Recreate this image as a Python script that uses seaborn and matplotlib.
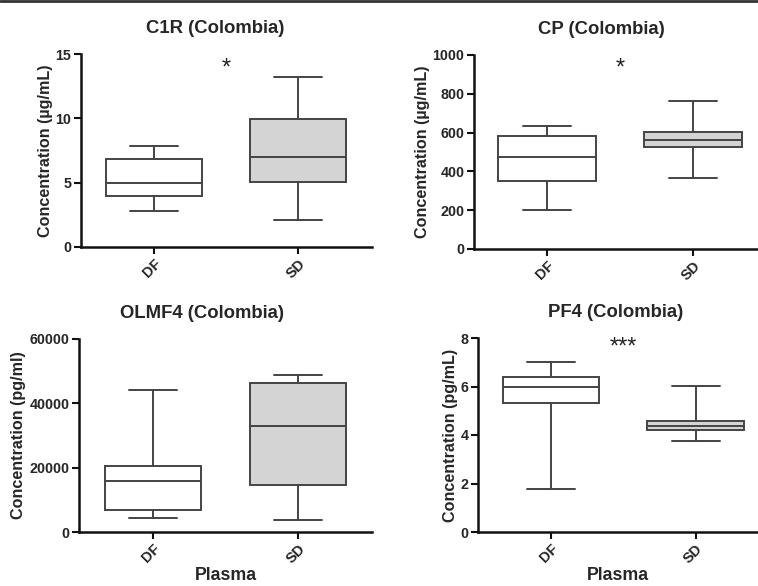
import numpy as np
import pandas as pd
import matplotlib
matplotlib.use("Agg")
import matplotlib.pyplot as plt
import seaborn as sns
from matplotlib.lines import Line2D

sns.set_theme(style="ticks")
plt.rcParams['font.family'] = ['Liberation Sans', 'DejaVu Sans']

groups = ["DF", "SD"]
titles = ["C1R (Colombia)", "CP (Colombia)", "OLMF4 (Colombia)", "PF4 (Colombia)"]
ylabels = ["Concentration (µg/mL)", "Concentration (µg/mL)",
           "Concentration (pg/ml)", "Concentration (pg/mL)"]
# five-number summaries per group: min, q1, median, q3, max
c1r_df = [2.8, 4.0, 5.0, 6.85, 7.85]
c1r_sd = [2.1, 5.05, 7.0, 9.95, 13.2]
cp_df = [201, 350, 472, 580, 632]
cp_sd = [366, 525, 562, 605, 763]
olmf4_df = [4250, 6700, 15700, 20500, 44300]
olmf4_sd = [3700, 14600, 33100, 46300, 48800]
pf4_df = [1.79, 5.31, 6.0, 6.39, 7.0]
pf4_sd = [3.75, 4.19, 4.36, 4.59, 6.03]
yticks = [[0, 5, 10, 15], [0, 200, 400, 600, 800, 1000],
          [0, 20000, 40000, 60000], [0, 2, 4, 6, 8]]
ytop = [15, 1000, 60000, 8]
stars = ["*", "*", "", "***"]
star_y = [13.9, 930, 0, 7.6]
xlabel = "Plasma"

series = [(c1r_df, c1r_sd), (cp_df, cp_sd), (olmf4_df, olmf4_sd), (pf4_df, pf4_sd)]

fig = plt.figure(figsize=(7.58, 5.86), dpi=100)
W, H = 758, 586
# pixel boxes: left, right, top, bottom ; xlim
boxes = [(81, 372, 54, 247, (-0.507, 1.514)),
         (474, 758, 55, 249, (-0.5, 1.445)),
         (79, 372, 339, 532, (-0.51, 1.51)),
         (478, 758, 338, 532, (-0.503, 1.43))]
title_x = [0.46, 0.447, 0.42, 0.49]

edge = "#444444"
for i, (vals, (l, r, t, b, xl)) in enumerate(zip(series, boxes)):
    ax = fig.add_axes([l / W, 1 - b / H, (r - l) / W, (b - t) / H])
    df = pd.DataFrame({"group": [groups[0]] * 5 + [groups[1]] * 5,
                       "value": list(vals[0]) + list(vals[1])})
    sns.boxplot(data=df, x="group", y="value", hue="group",
                palette={"DF": "#ffffff", "SD": "#d4d4d4"},
                whis=np.inf, width=0.667, linewidth=1.4, linecolor=edge,
                legend=False, ax=ax)
    ax.set_xlim(*xl)
    ax.set_ylim(0, ytop[i])
    ax.set_yticks(yticks[i])
    ax.set_yticklabels([str(v) for v in yticks[i]], fontsize=10.3, fontweight="bold")
    ax.set_xticks([0, 1])
    ax.set_xticklabels(groups, fontsize=10.5, fontweight="bold", rotation=45,
                       ha="right", rotation_mode="anchor")
    ax.set_ylabel(ylabels[i], fontsize=11.6, fontweight="bold", labelpad=2)
    if i >= 2:
        ax.set_xlabel(xlabel, fontsize=12.8, fontweight="bold", labelpad=1)
    else:
        ax.set_xlabel("")
    ax.set_title(titles[i], fontsize=13.3, fontweight="bold", x=title_x[i], pad=15)
    for s in ["top", "right"]:
        ax.spines[s].set_visible(False)
    for s in ["left", "bottom"]:
        ax.spines[s].set_linewidth(1.8)
        ax.spines[s].set_color("#111111")
    ax.tick_params(axis="both", width=1.5, length=5, color="#111111", pad=2)
    ax.set_facecolor("white")
    if stars[i]:
        ax.text(0.5, star_y[i], stars[i], ha="center", va="center", fontsize=17,
                color="#222222")

fig.add_artist(Line2D([0, 1], [0.998, 0.998], transform=fig.transFigure,
                      color="#333333", linewidth=2))
fig.savefig("out.png", dpi=100, facecolor="white")
